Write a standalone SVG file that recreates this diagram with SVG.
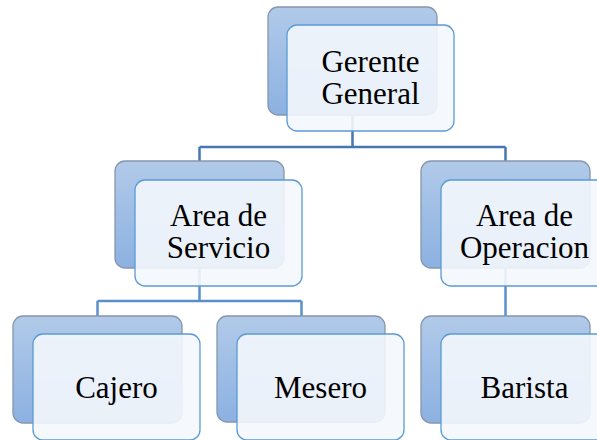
<svg xmlns="http://www.w3.org/2000/svg" width="597" height="440" viewBox="0 0 597 440">
  <style>
    .back { fill: url(#backFill); stroke: #8796ad; stroke-width: 1.3; }
    .front { fill: #f4f7fc; fill-opacity: 0.9; stroke: #5b9bd5; stroke-width: 1.3; }
    .label { font-family: "Liberation Serif", "Times New Roman", serif; font-size: 31px; fill: #000; text-anchor: middle; }
    .link-top { fill: none; stroke: #4677b0; stroke-width: 2.5; }
    .link-low { fill: none; stroke: #5b8fcc; stroke-width: 2.5; }
  </style>
  <defs>
    <linearGradient id="backFill" x1="0" y1="0" x2="0" y2="1">
      <stop offset="0" stop-color="#b1cae9"/>
      <stop offset="1" stop-color="#8cb1e1"/>
    </linearGradient>
  </defs>
  <rect width="597" height="440" fill="#ffffff"/>

  <!-- connectors -->
  <g id="connectors">
    <path class="link-top" d="M352.5 115 V147 M199.5 147 H505.5 M199.5 147 V161 M505.5 147 V161"/>
    <path class="link-low" d="M199.5 268 V301 M97.5 301 H301.5 M97.5 301 V316 M301.5 301 V316 M505.5 268 V316"/>
  </g>

  <g id="gerente-general">
    <rect class="back" x="268" y="7" width="169" height="108" rx="10"/>
    <rect class="front" x="287" y="25" width="167" height="106" rx="10"/>
    <text class="label" x="370.5" y="72">Gerente</text>
    <text class="label" x="370.5" y="104">General</text>
  </g>

  <g id="area-servicio">
    <rect class="back" x="115" y="161" width="169" height="107" rx="10"/>
    <rect class="front" x="135" y="180" width="167" height="106" rx="10"/>
    <text class="label" x="218.5" y="226">Area de</text>
    <text class="label" x="218.5" y="258">Servicio</text>
  </g>

  <g id="area-operacion">
    <rect class="back" x="421" y="161" width="169" height="107" rx="10"/>
    <rect class="front" x="441" y="180" width="167" height="106" rx="10"/>
    <text class="label" x="524.5" y="226">Area de</text>
    <text class="label" x="524.5" y="258">Operacion</text>
  </g>

  <g id="cajero">
    <rect class="back" x="13" y="316" width="169" height="107" rx="10"/>
    <rect class="front" x="33" y="334" width="167" height="106" rx="10"/>
    <text class="label" x="116.5" y="398">Cajero</text>
  </g>

  <g id="mesero">
    <rect class="back" x="217" y="316" width="168" height="106" rx="10"/>
    <rect class="front" x="237" y="334" width="167" height="106" rx="10"/>
    <text class="label" x="320.5" y="398">Mesero</text>
  </g>

  <g id="barista">
    <rect class="back" x="421" y="316" width="169" height="107" rx="10"/>
    <rect class="front" x="441" y="334" width="167" height="106" rx="10"/>
    <text class="label" x="524.5" y="398">Barista</text>
  </g>
</svg>
